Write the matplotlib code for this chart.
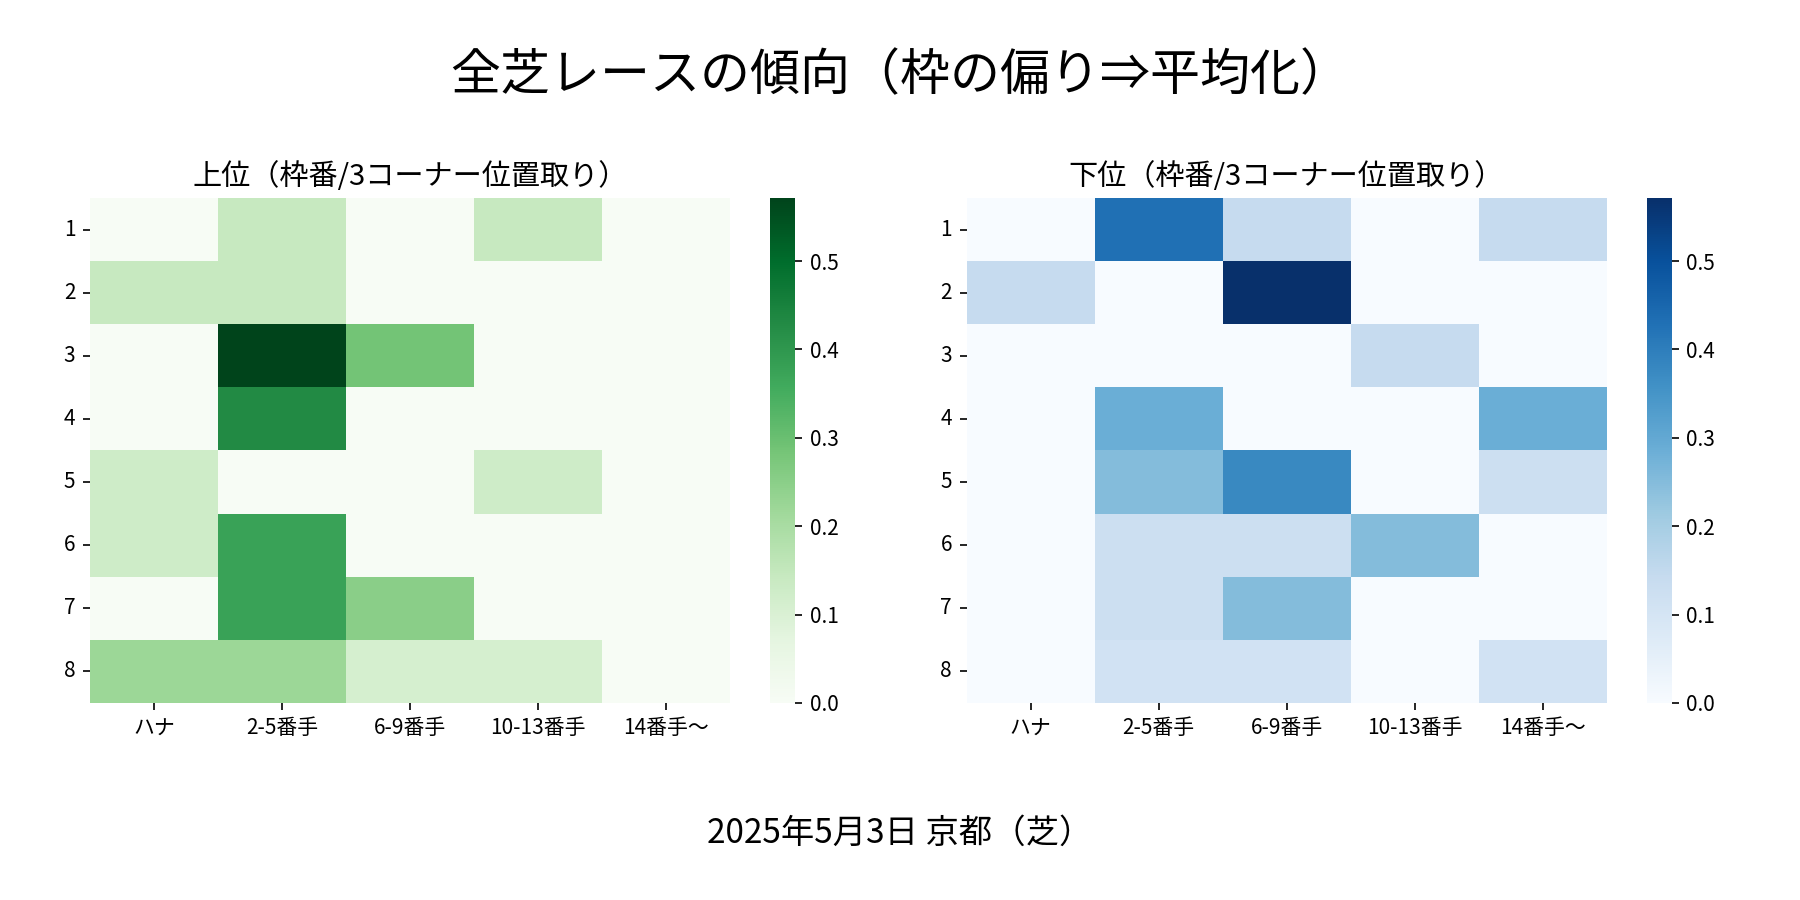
import numpy as np
import pandas as pd
import matplotlib
matplotlib.use("Agg")
import matplotlib.pyplot as plt
import seaborn as sns

plt.rcParams['font.family'] = ['Noto Sans CJK JP', 'DejaVu Sans']

# 枠番 and 3コーナー position groups
waku = [1, 2, 3, 4, 5, 6, 7, 8]
positions = ["ハナ", "2-5番手", "6-9番手", "10-13番手", "14番手～"]

# share of runners per cell
top_vals = [
    [0, 1/7, 0, 1/7, 0],
    [1/7, 1/7, 0, 0, 0],
    [0, 4/7, 2/7, 0, 0],
    [0, 3/7, 0, 0, 0],
    [1/8, 0, 0, 1/8, 0],
    [1/8, 3/8, 0, 0, 0],
    [0, 3/8, 2/8, 0, 0],
    [2/9, 2/9, 1/9, 1/9, 0],
]
bottom_vals = [
    [0, 3/7, 1/7, 0, 1/7],
    [1/7, 0, 4/7, 0, 0],
    [0, 0, 0, 1/7, 0],
    [0, 2/7, 0, 0, 2/7],
    [0, 2/8, 3/8, 0, 1/8],
    [0, 1/8, 1/8, 2/8, 0],
    [0, 1/8, 2/8, 0, 0],
    [0, 1/9, 1/9, 0, 1/9],
]

df_top = pd.DataFrame(top_vals, index=waku, columns=positions)
df_bottom = pd.DataFrame(bottom_vals, index=waku, columns=positions)

fig, axes = plt.subplots(1, 2, figsize=(12, 6), dpi=150)
plt.subplots_adjust(left=0.05, right=0.9814, bottom=0.219, top=0.78, wspace=0.0956)

sns.heatmap(df_top, ax=axes[0], cmap="Greens")
axes[0].set_title("上位（枠番/3コーナー位置取り）", fontsize=14)
sns.heatmap(df_bottom, ax=axes[1], cmap="Blues")
axes[1].set_title("下位（枠番/3コーナー位置取り）", fontsize=14)

for ax in axes:
    ax.set_xlabel("")
    ax.set_ylabel("")
    ax.tick_params(axis='y', labelrotation=0)
    ax.tick_params(axis='x', labelrotation=0)

fig.suptitle("全芝レースの傾向（枠の偏り⇒平均化）", fontsize=24, y=0.915, va='center')
fig.text(0.5, 0.074, "2025年5月3日 京都（芝）", ha='center', va='center', fontsize=16)

plt.savefig("out.png", dpi=150)
